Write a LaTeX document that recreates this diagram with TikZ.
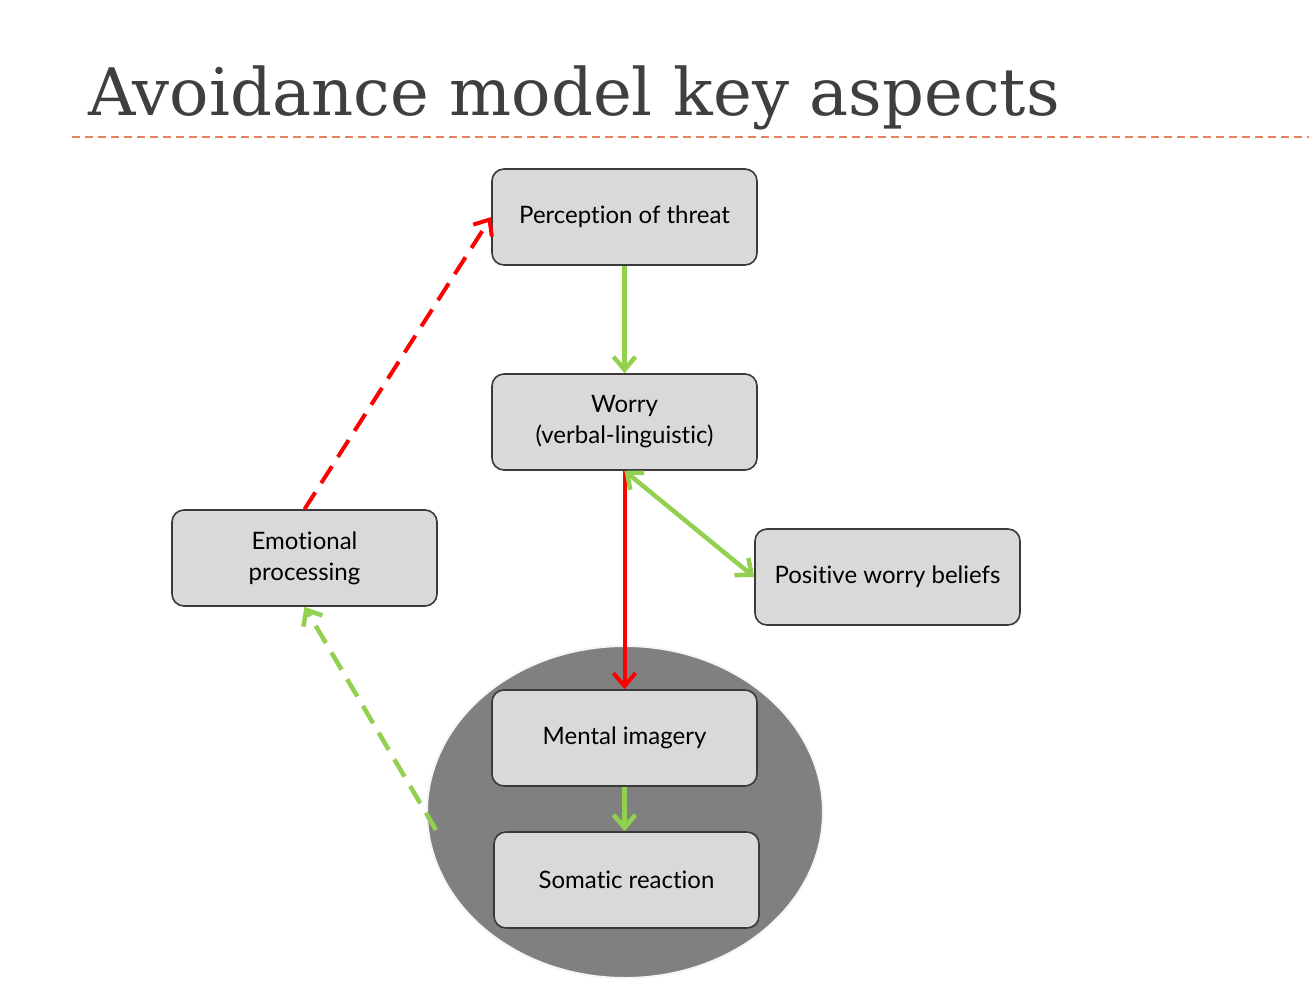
\documentclass[tikz,border=0pt]{standalone}
\usepackage{fontspec}
\newfontfamily\boxfont{Lato}[Ligatures=NoCommon]
\newfontfamily\titlefont{DejaVu Serif}
\usetikzlibrary{arrows.meta,shapes.geometric,shadows}
\definecolor{boxgray}{HTML}{D9D9D9}
\definecolor{boxline}{HTML}{3A3A3A}
\definecolor{arrgreen}{HTML}{92D050}
\definecolor{titlegray}{HTML}{3F3F3F}
\definecolor{rulecol}{HTML}{E2855C}
\begin{document}
\begin{tikzpicture}[x=1pt,y=-1pt,
box/.style={draw=boxline, line width=1.6pt, fill=boxgray, rounded corners=12pt,
  minimum width=265pt, minimum height=96pt, align=center,
  font=\boxfont\fontsize{24}{31}\selectfont},
shadowed/.style={drop shadow={opacity=0.35, shadow xshift=2pt, shadow yshift=-2pt}},
tip/.style={-{Straight Barb[length=13pt,width=22pt]}},
greenarr/.style={tip, draw=arrgreen, line width=4.5pt},
redarr/.style={tip, draw=red, line width=4pt}
]
\useasboundingbox (0,0) rectangle (1309,1004);
\node[anchor=base west, text=titlegray, font=\titlefont\fontsize{65.5}{72}\selectfont, inner sep=0pt]
  (title) at (88,115) {Avoidance model key aspects};
\draw[rulecol, line width=1.5pt, dash pattern=on 8pt off 5pt] (72,137) -- (1309,137);

\node[ellipse, fill=gray, draw=white!92!gray, line width=2pt,
  minimum width=396pt, minimum height=332pt] (halo) at (625,812) {};

\node[box] (threat) at (624.5,217) {Perception of threat};
\node[box] (worry) at (624.5,422) {Worry\\(verbal-linguistic)};
\node[box] (emo) at (304.5,558) {Emotional\\processing};
\node[box] (beliefs) at (887.5,577) {Positive worry beliefs};
\node[box, shadowed] (imagery) at (624.5,738) {Mental imagery};
\node[box, shadowed] (somatic) at (626.5,880) {Somatic reaction};
\coordinate (gtail) at (436,830);

\draw[greenarr] (threat) -- (worry);
\draw[redarr] (worry.south) -- (imagery.north);
\draw[greenarr, {Straight Barb[length=13pt,width=22pt]}-{Straight Barb[length=13pt,width=22pt]}]
  (worry.south) -- (beliefs.west);
\draw[greenarr] (imagery.south) -- (imagery.south |- somatic.north);
\draw[greenarr, dash pattern=on 20pt off 11pt] (gtail) -- (emo.south);
\draw[redarr, dash pattern=on 20pt off 11pt] (emo.north) -- (threat.west);
\end{tikzpicture}
\end{document}
